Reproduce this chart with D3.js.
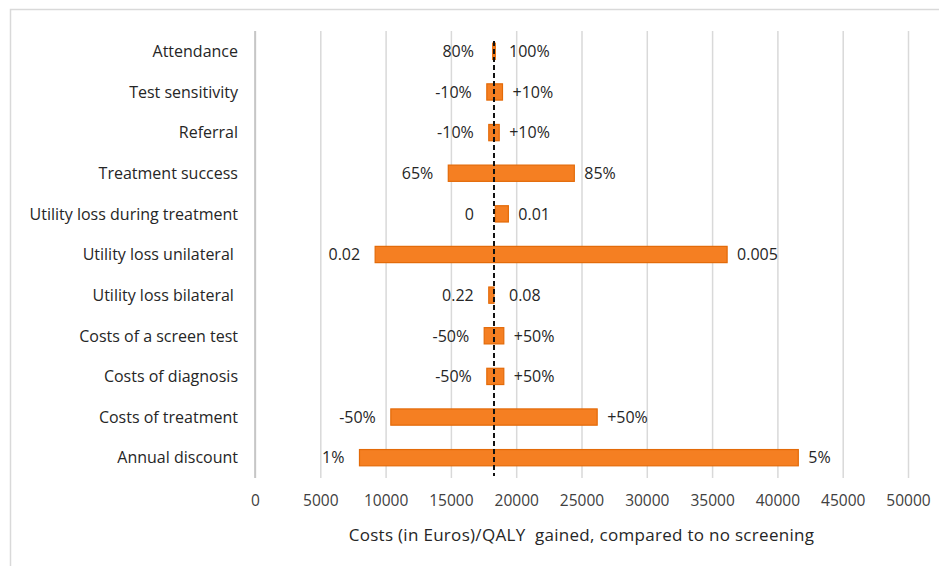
<!DOCTYPE html>
<html>
<head>
<meta charset="utf-8">
<script src="https://cdn.jsdelivr.net/npm/d3@7"></script>
<style>
  body { margin: 0; background: #fff; }
  svg { font-family: "Open Sans", sans-serif; }
  .cat { white-space: pre; }
</style>
</head>
<body>
<div id="chart"></div>
<script>
// --- Data ---
const categories = [
    "Attendance", "Test sensitivity", "Referral", "Treatment success",
    "Utility loss during treatment", "Utility loss unilateral ", "Utility loss bilateral ",
    "Costs of a screen test", "Costs of diagnosis", "Costs of treatment", "Annual discount"
];
const lowValues  = [18200, 17750, 17900, 14800, 18400,  9200, 17900, 17550, 17750, 10400,  8000];
const highValues = [18400, 18950, 18700, 24450, 19400, 36150, 18300, 19050, 19050, 26200, 41600];
const lowLabels  = ["80%", "-10%", "-10%", "65%", "0", "0.02", "0.22", "-50%", "-50%", "-50%", "1%"];
const highLabels = ["100%", "+10%", "+10%", "85%", "0.01", "0.005", "0.08", "+50%", "+50%", "+50%", "5%"];
const baseCase = 18300;
const xTicks = [0, 5000, 10000, 15000, 20000, 25000, 30000, 35000, 40000, 45000, 50000];
const axisTitle = "Costs (in Euros)/QALY  gained, compared to no screening";

// --- Layout ---
const width = 939, height = 566;
const plot = { left: 255, right: 908, top: 31, bottom: 478 };
const fontSize = "16px";

const svg = d3.select("#chart").append("svg")
    .attr("width", width)
    .attr("height", height);

// outer frame (only left/top visible in the picture)
svg.append("rect")
    .attr("x", 10.5).attr("y", 9.5)
    .attr("width", 1000).attr("height", 1000)
    .attr("fill", "none")
    .attr("stroke", "#d9d9d9")
    .attr("stroke-width", 1.5);

const x = d3.scaleLinear().domain([0, 50000]).range([plot.left, plot.right]);
const y = d3.scaleBand().domain(categories).range([plot.top, plot.bottom]).paddingInner(0.6).paddingOuter(0.3);

// gridlines
svg.append("g")
    .attr("transform", `translate(0,${plot.bottom})`)
    .call(d3.axisBottom(x).tickValues(xTicks).tickSize(-(plot.bottom - plot.top)).tickFormat(""))
    .call(g => g.select(".domain").remove())
    .call(g => g.selectAll("line").attr("stroke", "#d9d9d9").attr("stroke-width", 1.5));

// tick labels
svg.append("g")
    .attr("transform", `translate(0,${plot.bottom})`)
    .call(d3.axisBottom(x).tickValues(xTicks).tickSize(0).tickPadding(17).tickFormat(d3.format("d")))
    .call(g => g.select(".domain").remove())
    .call(g => g.selectAll("text")
        .attr("fill", "#404040")
        .style("font-size", "15.5px")
        .style("font-family", "'Open Sans', sans-serif"));

// bars
const rows = categories.map((c, i) => ({
    cat: c, lo: lowValues[i], hi: highValues[i], loLabel: lowLabels[i], hiLabel: highLabels[i]
}));

svg.selectAll("rect.bar")
    .data(rows)
    .enter()
    .append("rect")
    .attr("class", "bar")
    .attr("x", d => x(d.lo))
    .attr("y", d => y(d.cat))
    .attr("width", d => Math.max(1, x(d.hi) - x(d.lo)))
    .attr("height", y.bandwidth())
    .attr("fill", "#f57f22")
    .attr("stroke", "#e36a08")
    .attr("stroke-width", 1.2);

// base case dashed line
svg.append("line")
    .attr("x1", x(baseCase)).attr("x2", x(baseCase))
    .attr("y1", plot.top + 10).attr("y2", plot.bottom - 2)
    .attr("stroke", "#111")
    .attr("stroke-width", 2)
    .attr("stroke-dasharray", "5,3");

// value labels
svg.selectAll("text.lo")
    .data(rows)
    .enter()
    .append("text")
    .attr("class", "lo")
    .attr("x", d => Math.min(x(d.lo), x(baseCase) - 5) - 15)
    .attr("y", d => y(d.cat) + y.bandwidth() / 2)
    .attr("dy", "0.36em")
    .attr("text-anchor", "end")
    .attr("fill", "#262626")
    .style("font-size", fontSize)
    .text(d => d.loLabel);

svg.selectAll("text.hi")
    .data(rows)
    .enter()
    .append("text")
    .attr("class", "hi")
    .attr("x", d => Math.max(x(d.hi), x(baseCase) + 5) + 10)
    .attr("y", d => y(d.cat) + y.bandwidth() / 2)
    .attr("dy", "0.36em")
    .attr("fill", "#262626")
    .style("font-size", fontSize)
    .text(d => d.hiLabel);

// category labels
svg.selectAll("text.cat")
    .data(categories)
    .enter()
    .append("text")
    .attr("class", "cat")
    .attr("x", 238)
    .attr("y", d => y(d) + y.bandwidth() / 2)
    .attr("dy", "0.36em")
    .attr("text-anchor", "end")
    .attr("fill", "#262626")
    .style("font-size", fontSize)
    .text(d => d);

// left axis line
svg.append("line")
    .attr("x1", plot.left).attr("x2", plot.left)
    .attr("y1", plot.top).attr("y2", plot.bottom)
    .attr("stroke", "#bfbfbf")
    .attr("stroke-width", 1.5);

// axis title
svg.append("text")
    .attr("class", "cat")
    .attr("x", (plot.left + plot.right) / 2)
    .attr("y", 535)
    .attr("dy", "0.36em")
    .attr("text-anchor", "middle")
    .attr("fill", "#262626")
    .style("font-size", "17px")
    .style("letter-spacing", "0.3px")
    .text(axisTitle);
</script>
</body>
</html>
